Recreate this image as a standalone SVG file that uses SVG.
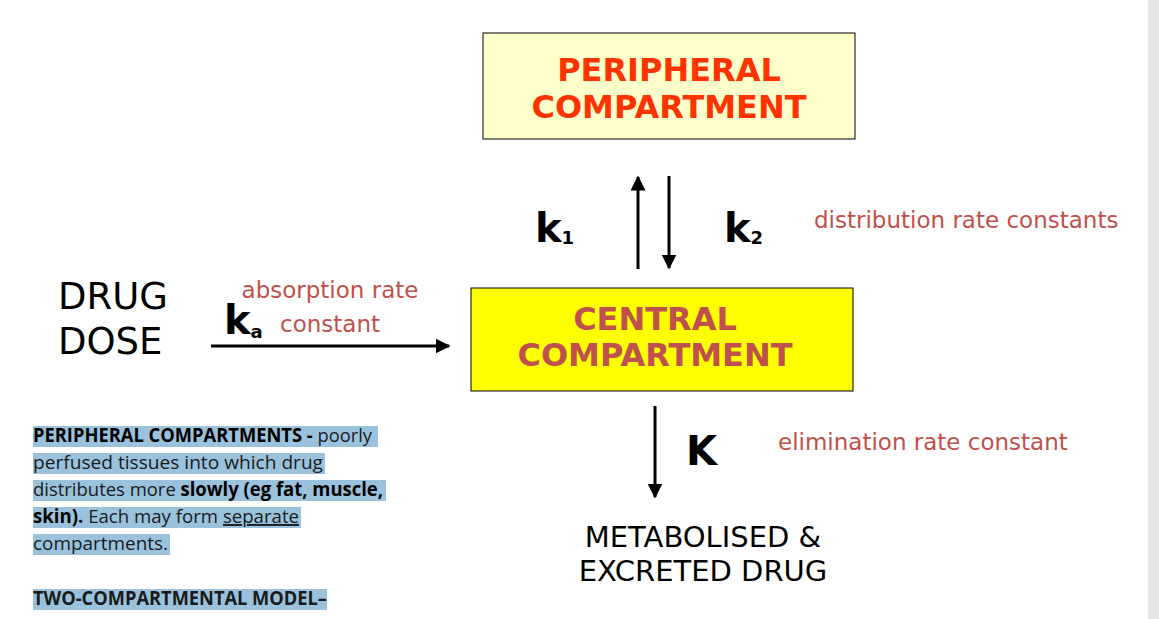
<svg xmlns="http://www.w3.org/2000/svg" width="1159" height="619" viewBox="0 0 1159 619">
<defs>
<style>
.v{font-family:"DejaVu Sans",Verdana,sans-serif}
.t{font-family:"Open Sans","Liberation Sans",sans-serif;font-size:19px;fill:#1a1a1a}
.hl{fill:#9bc2dc}
.red{fill:#c0504d}
</style>
<marker id="ah" viewBox="0 0 10 10" refX="9" refY="5" markerWidth="5" markerHeight="5" orient="auto"><path d="M0,0L10,5L0,10z" fill="#000"/></marker>
</defs>
<rect width="1159" height="619" fill="#fff"/>
<rect x="1148" y="0" width="11" height="619" fill="#e6e6e6"/>
<g id="peripheral">
<rect x="483" y="33" width="372" height="106" fill="#ffffcc" stroke="#000" stroke-width="1"/>
<text class="v" x="669" y="81" text-anchor="middle" font-size="32" font-weight="bold" fill="#ff3300">PERIPHERAL</text>
<text class="v" x="669" y="118" text-anchor="middle" font-size="32" font-weight="bold" fill="#ff3300">COMPARTMENT</text>
</g>
<g id="central">
<rect x="471" y="288" width="382" height="103" fill="#ffff00" stroke="#000" stroke-width="1"/>
<text class="v" x="655" y="330" text-anchor="middle" font-size="32" font-weight="bold" fill="#c0504d">CENTRAL</text>
<text class="v" x="655" y="366" text-anchor="middle" font-size="32" font-weight="bold" fill="#c0504d">COMPARTMENT</text>
</g>
<g id="dose">
<text class="v" x="58" y="309" font-size="37">DRUG</text>
<text class="v" x="58" y="354" font-size="37">DOSE</text>
</g>
<g id="excreted">
<text class="v" x="703" y="547" text-anchor="middle" font-size="29">METABOLISED &amp;</text>
<text class="v" x="703" y="581" text-anchor="middle" font-size="29">EXCRETED DRUG</text>
</g>
<g id="connectors" stroke="#000" stroke-width="3" fill="none">
<line x1="211" y1="346" x2="449" y2="346" marker-end="url(#ah)"/>
<line x1="638" y1="269" x2="638" y2="177" marker-end="url(#ah)"/>
<line x1="669" y1="176" x2="669" y2="268" marker-end="url(#ah)"/>
<line x1="655" y1="406" x2="655" y2="497" marker-end="url(#ah)"/>
</g>
<g id="labels">
<text class="v" x="224" y="334" font-size="40" font-weight="bold">k<tspan font-size="18" dy="4">a</tspan></text>
<text class="v red" x="330" y="298" text-anchor="middle" font-size="23">absorption rate</text>
<text class="v red" x="330" y="332" text-anchor="middle" font-size="23">constant</text>
<text class="v" x="535" y="242" font-size="40" font-weight="bold">k<tspan font-size="18" dy="2">1</tspan></text>
<text class="v" x="724" y="242" font-size="40" font-weight="bold">k<tspan font-size="18" dy="2">2</tspan></text>
<text class="v red" x="814" y="228" font-size="23">distribution rate constants</text>
<text class="v" x="686" y="465" font-size="40" font-weight="bold">K</text>
<text class="v red" x="778" y="450" font-size="23">elimination rate constant</text>
</g>
<g id="notes">
<rect class="hl" x="33" y="426" width="345" height="21"/>
<rect class="hl" x="33" y="453" width="292" height="21"/>
<rect class="hl" x="33" y="480" width="353" height="21"/>
<rect class="hl" x="33" y="507" width="268" height="21"/>
<rect class="hl" x="33" y="534" width="137" height="21"/>
<rect class="hl" x="33" y="589" width="294" height="21"/>
<text class="t" x="33" y="442" textLength="339" lengthAdjust="spacingAndGlyphs"><tspan font-weight="bold" fill="#000">PERIPHERAL COMPARTMENTS - </tspan>poorly</text>
<text class="t" x="33" y="469" textLength="290" lengthAdjust="spacingAndGlyphs">perfused tissues into which drug</text>
<text class="t" x="33" y="496" textLength="350" lengthAdjust="spacingAndGlyphs">distributes more <tspan font-weight="bold" fill="#000">slowly (eg fat, muscle,</tspan></text>
<text class="t" x="33" y="523" textLength="266" lengthAdjust="spacingAndGlyphs"><tspan font-weight="bold" fill="#000">skin).</tspan> Each may form <tspan text-decoration="underline">separate</tspan></text>
<text class="t" x="33" y="550" textLength="135" lengthAdjust="spacingAndGlyphs">compartments.</text>
<text class="t" x="33" y="605" font-weight="bold" fill="#000" textLength="294" lengthAdjust="spacingAndGlyphs">TWO-COMPARTMENTAL MODEL–</text>
</g>
</svg>
